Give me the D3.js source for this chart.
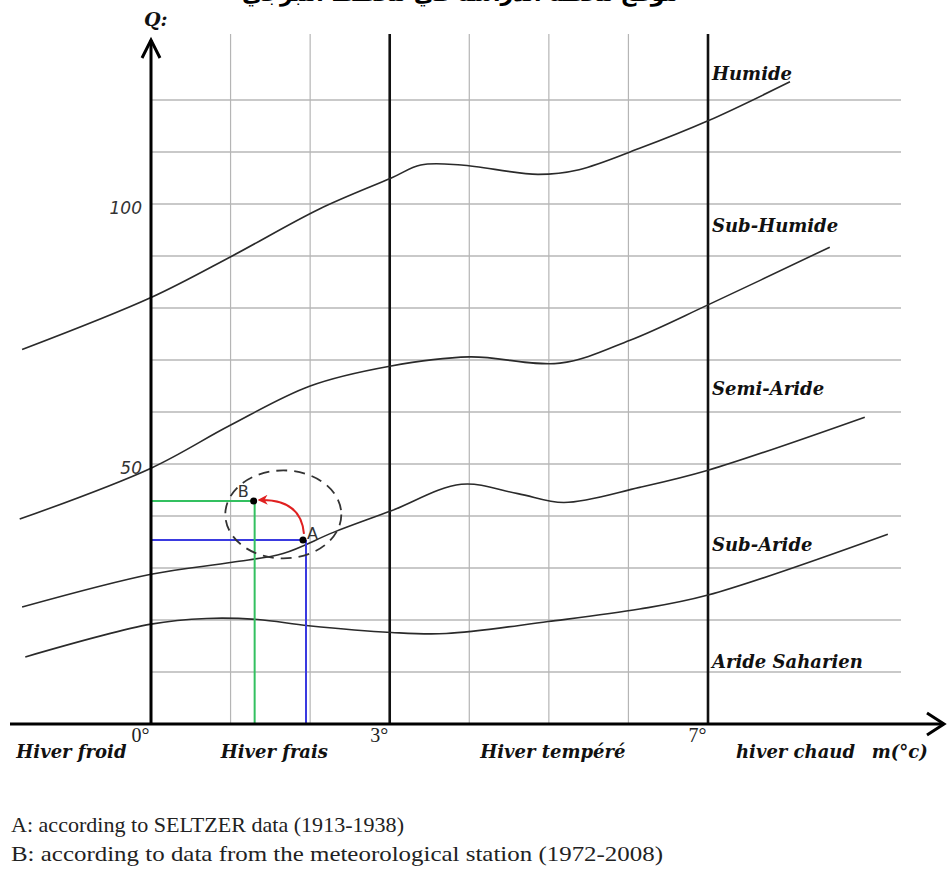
<!DOCTYPE html>
<html>
<head>
<meta charset="utf-8">
<script src="https://cdn.jsdelivr.net/npm/d3@7"></script>
<style>
  body { margin: 0; background: #fff; }
  svg { display: block; }
  .zone { font-family: "DejaVu Serif", "Liberation Serif", serif; font-weight: bold; font-style: italic; font-size: 18px; fill: #111; }
  .season { font-family: "DejaVu Serif", "Liberation Serif", serif; font-weight: bold; font-style: italic; font-size: 18px; fill: #111; }
  .legend { font-family: "Liberation Serif", serif; font-size: 21px; fill: #222; }
  .deg text { font-family: "Liberation Serif", serif; font-size: 20px; fill: #222; }
  .qlab text { font-family: "DejaVu Sans", sans-serif; font-style: italic; font-size: 17px; fill: #333; }
</style>
</head>
<body>
<script>
// grille
var qGrid = [10, 20, 30, 40, 50, 60, 70, 80, 90, 100, 110, 120];
var mMinor = [1, 2, 4, 5, 6];
var mMajor = [3, 7];
var qLabels = [50, 100];
var mLabels = [0, 3, 7];

// limites des étages (m en °C, Q)
var humideM = [-1.62, 0, 1.02, 2.11, 3.02, 3.39, 3.9, 4.86, 5.38, 6.14, 7.0, 8.03];
var humideQ = [72, 82, 90, 99, 105, 107.5, 107.5, 105.7, 106.6, 110.7, 116, 123.5];

var subHumM = [-1.65, 0, 0.99, 2.0, 3.0, 4.0, 5.14, 6.02, 7.0, 8.53];
var subHumQ = [39.4, 49.2, 57.4, 65, 68.8, 70.6, 69.4, 73.8, 80.6, 91.7];

var semiAridM = [-1.62, 0, 1.02, 1.66, 2.30, 3.02, 3.9, 4.61, 5.19, 6.14, 7.0, 8.97];
var semiAridQ = [22.5, 28.8, 31.1, 32.8, 36.9, 41, 46.1, 44.3, 42.6, 45.5, 48.8, 59];

var subAridM = [-1.58, 0, 0.70, 1.34, 1.98, 3.02, 3.71, 4.99, 6.14, 7.0, 9.26];
var subAridQ = [12.9, 19.2, 20.3, 20.1, 18.9, 17.6, 17.4, 19.7, 22.1, 24.8, 36.5];

var zoneNames = ["Humide", "Sub-Humide", "Semi-Aride", "Sub-Aride", "Aride Saharien"];
var zoneQ = [123.8, 94.6, 63.3, 33.3, 10.8];

var seasonNames = ["Hiver froid", "Hiver frais", "Hiver tempéré", "hiver chaud", "m(°c)"];
var seasonM = [-1.0, 1.55, 5.05, 8.1, 9.41];

// stations
var pointNames = ["A", "B"];
var pointM = [1.91, 1.29];
var pointQ = [35.4, 42.9];
var pointColors = ["#3a3ae0", "#33c060"];

var legendLines = [
  "A: according to SELTZER data (1913-1938)",
  "B: according to data from the meteorological station (1972-2008)"
];
var legendWidths = [393, 652];
var titre = "موقع محطة الدراسة في مخطط أمبرجي";

var width = 948, height = 875;
var x = d3.scaleLinear().domain([0, 7]).range([151, 708]);
var y = d3.scaleLinear().domain([0, 120]).range([724, 100]);

var svg = d3.select("body").append("svg")
  .attr("width", width).attr("height", height);
svg.append("rect").attr("width", width).attr("height", height).attr("fill", "#fff");

// titre (coupé en haut comme sur l'original)
svg.append("text")
  .attr("x", 460).attr("y", 1)
  .attr("text-anchor", "middle")
  .attr("font-family", "DejaVu Sans")
  .attr("font-weight", "bold")
  .attr("font-size", 22)
  .attr("direction", "rtl")
  .text(titre);

// grille horizontale
svg.append("g").selectAll("line").data(qGrid).enter().append("line")
  .attr("x1", x(0)).attr("x2", 901)
  .attr("y1", function (d) { return y(d); })
  .attr("y2", function (d) { return y(d); })
  .attr("stroke", "#c9c9c9").attr("stroke-width", 2);

// grille verticale
svg.append("g").selectAll("line").data(mMinor).enter().append("line")
  .attr("x1", function (d) { return x(d); })
  .attr("x2", function (d) { return x(d); })
  .attr("y1", 34).attr("y2", y(0))
  .attr("stroke", "#b5b5b5").attr("stroke-width", 1.2);

svg.append("g").selectAll("line").data(mMajor).enter().append("line")
  .attr("x1", function (d) { return x(d); })
  .attr("x2", function (d) { return x(d); })
  .attr("y1", 34).attr("y2", y(0))
  .attr("stroke", "#111").attr("stroke-width", 2.6);

// courbes
var line = d3.line()
  .x(function (d) { return x(d[0]); })
  .y(function (d) { return y(d[1]); })
  .curve(d3.curveCatmullRom.alpha(0.5));

[[humideM, humideQ], [subHumM, subHumQ], [semiAridM, semiAridQ], [subAridM, subAridQ]].forEach(function (c) {
  svg.append("path")
    .datum(d3.zip(c[0], c[1]))
    .attr("d", line)
    .attr("fill", "none")
    .attr("stroke", "#2a2a2a")
    .attr("stroke-width", 1.6);
});

// lignes de rappel A et B
pointNames.forEach(function (n, i) {
  var px = x(pointM[i]), py = y(pointQ[i]);
  svg.append("line").attr("x1", x(0)).attr("x2", px).attr("y1", py).attr("y2", py)
    .attr("stroke", pointColors[i]).attr("stroke-width", 2);
  svg.append("line").attr("x1", px + (i === 0 ? 3 : 1)).attr("x2", px + (i === 0 ? 3 : 1)).attr("y1", py).attr("y2", y(0))
    .attr("stroke", pointColors[i]).attr("stroke-width", 2);
});

// ellipse en tirets
var ax = x(pointM[0]), ay = y(pointQ[0]);
var bx = x(pointM[1]), by = y(pointQ[1]);
svg.append("ellipse")
  .attr("cx", (ax + bx) / 2 + 5).attr("cy", (ay + by) / 2 - 6)
  .attr("rx", 58).attr("ry", 44)
  .attr("fill", "none").attr("stroke", "#333")
  .attr("stroke-width", 1.8)
  .attr("stroke-dasharray", "11,7");

// flèche rouge A -> B
svg.append("defs").append("marker")
  .attr("id", "fl").attr("viewBox", "0 0 10 10")
  .attr("refX", 8).attr("refY", 5)
  .attr("markerWidth", 5).attr("markerHeight", 5)
  .attr("orient", "auto")
  .append("path").attr("d", "M0,0 L10,5 L0,10 L3,5 Z").attr("fill", "#e02020");

svg.append("path")
  .attr("d", "M" + (ax + 1) + "," + (ay - 6) + " Q" + (ax - 2) + "," + (by - 2) + " " + (bx + 6) + "," + (by - 1))
  .attr("fill", "none").attr("stroke", "#e02020").attr("stroke-width", 2)
  .attr("marker-end", "url(#fl)");

// points
pointNames.forEach(function (n, i) {
  var px = x(pointM[i]), py = y(pointQ[i]);
  svg.append("circle").attr("cx", px).attr("cy", py).attr("r", 3.5).attr("fill", "#000");
  svg.append("text")
    .attr("x", i === 0 ? px + 4 : px - 16)
    .attr("y", i === 0 ? py - 1 : py - 4)
    .attr("font-family", "DejaVu Sans, sans-serif")
    .attr("font-size", 16).attr("fill", "#333")
    .text(n);
});

// axes
svg.append("line").attr("x1", 10).attr("x2", 944).attr("y1", y(0)).attr("y2", y(0))
  .attr("stroke", "#000").attr("stroke-width", 3);
svg.append("path").attr("d", "M927,713 L944," + y(0) + " L927,735")
  .attr("fill", "none").attr("stroke", "#000").attr("stroke-width", 3);

svg.append("line").attr("x1", x(0)).attr("x2", x(0)).attr("y1", y(0)).attr("y2", 40)
  .attr("stroke", "#000").attr("stroke-width", 3);
svg.append("path").attr("d", "M" + (x(0) - 9) + ",58 L" + x(0) + ",40 L" + (x(0) + 9) + ",58")
  .attr("fill", "none").attr("stroke", "#000").attr("stroke-width", 3);

svg.append("text").attr("x", x(0) - 7).attr("y", 26)
  .attr("class", "zone").style("font-size", "19px").text("Q:");

// graduations Q
var yAxis = svg.append("g")
  .attr("class", "qlab")
  .attr("transform", "translate(" + (x(0) - 9) + ",0)")
  .call(d3.axisLeft(y).tickValues(qLabels).tickSize(0).tickPadding(0));
yAxis.attr("font-size", null).attr("font-family", null);
yAxis.select(".domain").remove();
yAxis.selectAll("text").attr("fill", null).attr("dy", "0.55em");

// graduations m
var xAxis = svg.append("g")
  .attr("class", "deg")
  .attr("transform", "translate(0," + y(0) + ")")
  .call(d3.axisBottom(x).tickValues(mLabels).tickSize(0).tickPadding(4)
    .tickFormat(function (d) { return d + "°"; }));
xAxis.attr("font-size", null).attr("font-family", null);
xAxis.select(".domain").remove();
xAxis.selectAll("text")
  .attr("fill", null)
  .attr("text-anchor", "end")
  .attr("dx", "-2");

// étiquettes des étages
svg.append("g").selectAll("text").data(zoneNames).enter().append("text")
  .attr("class", "zone")
  .attr("x", x(7) + 4)
  .attr("y", function (d, i) { return y(zoneQ[i]); })
  .text(function (d) { return d; });

// saisons
svg.append("g").selectAll("text").data(seasonNames).enter().append("text")
  .attr("class", "season")
  .attr("text-anchor", "middle")
  .attr("x", function (d, i) { return x(seasonM[i]); })
  .attr("y", 758)
  .text(function (d) { return d; });

// légende
svg.append("g").selectAll("text").data(legendLines).enter().append("text")
  .attr("class", "legend")
  .attr("x", 11)
  .attr("y", function (d, i) { return 832 + i * 29; })
  .attr("textLength", function (d, i) { return legendWidths[i]; })
  .attr("lengthAdjust", "spacingAndGlyphs")
  .text(function (d) { return d; });
</script>
</body>
</html>
